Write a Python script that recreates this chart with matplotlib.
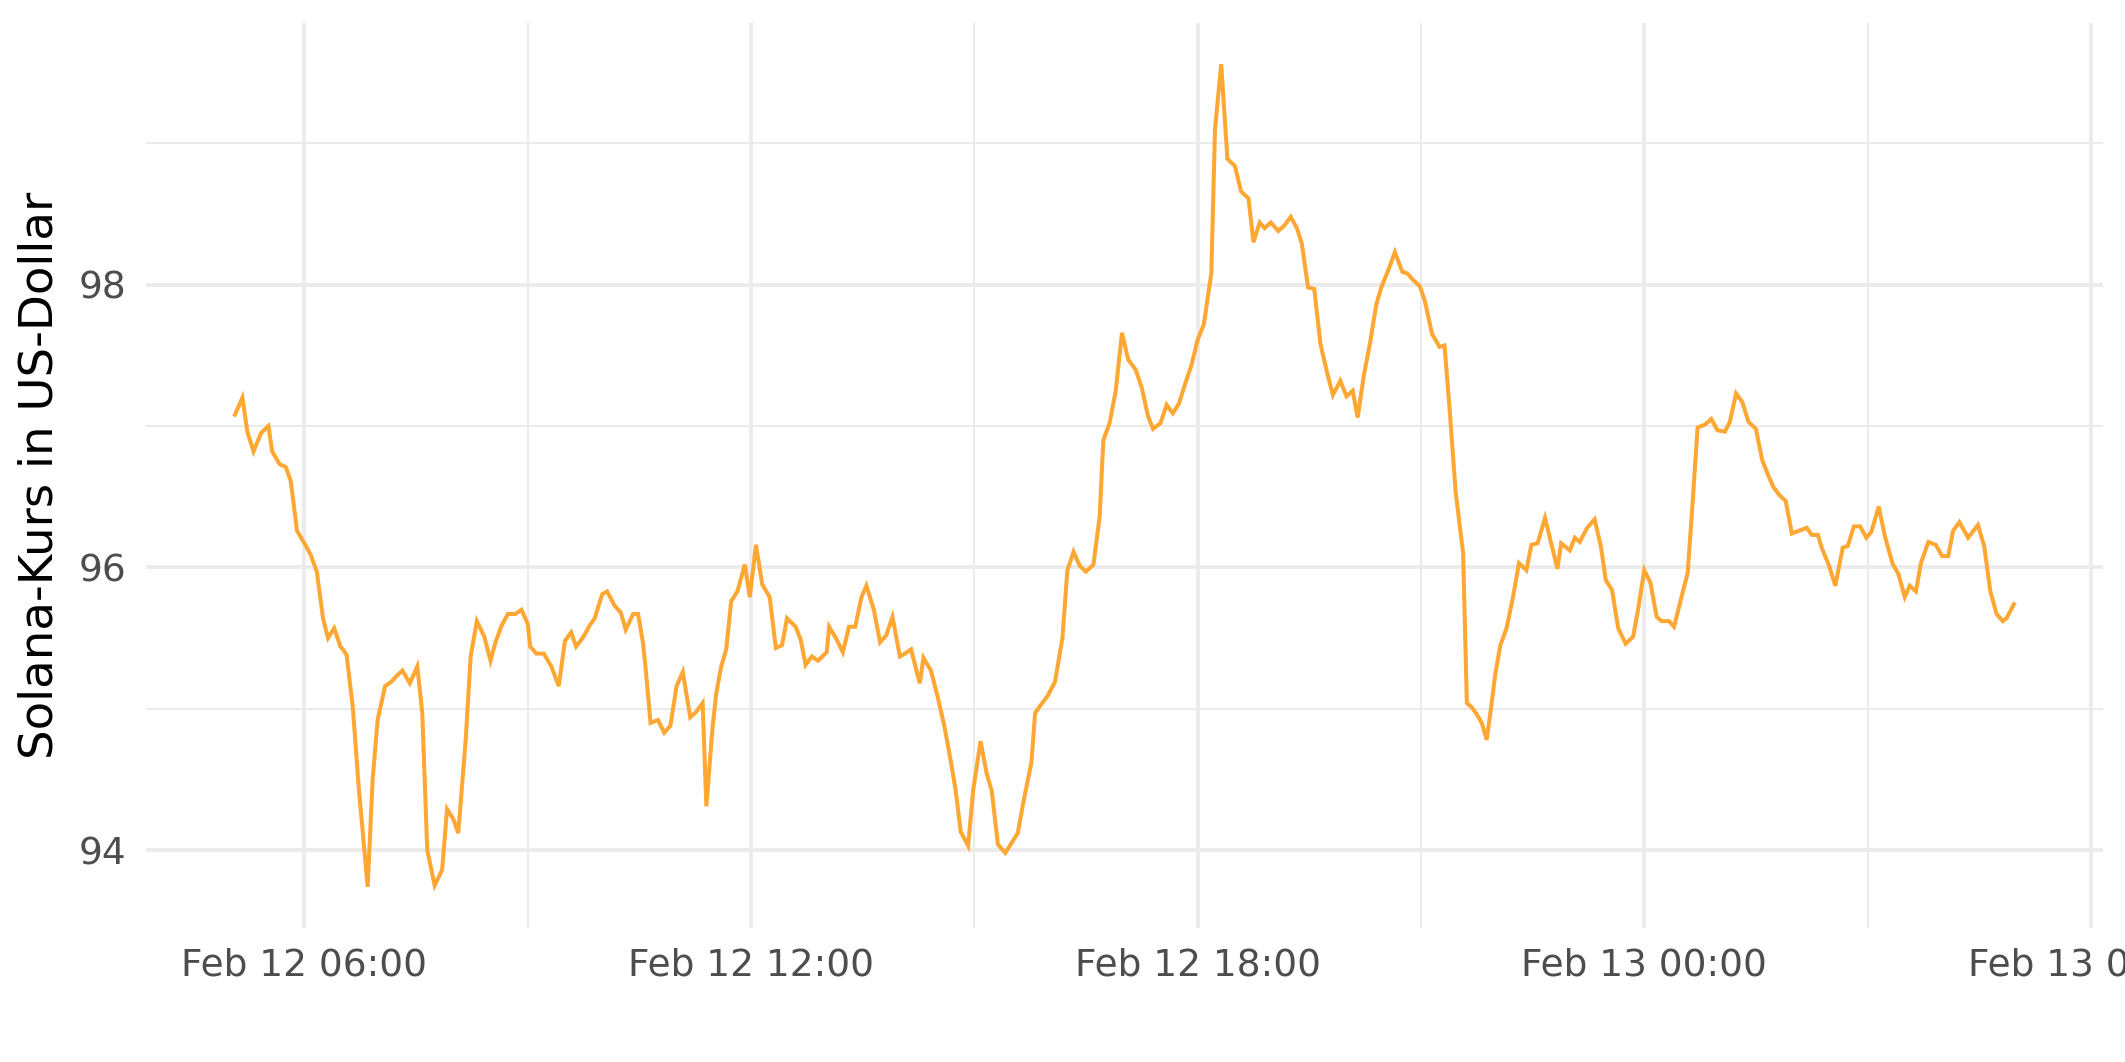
"""Solana price over one day, 5-minute ticks."""

import matplotlib

matplotlib.use("Agg")
import matplotlib.dates as mdates
import matplotlib.pyplot as plt
import pandas as pd

# minutes after 2024-02-12 00:00
minutes = [
    304, 310, 314, 319, 325, 331, 334, 340, 345, 349, 354, 360, 365, 370, 375,
    379, 384, 389, 391, 394, 399, 404, 411, 415, 419, 425, 430, 434, 439, 445,
    451, 455, 459, 465, 471, 475, 480, 484, 490, 494, 499, 505, 510, 514, 519,
    524, 530, 535, 540, 542, 547, 553, 559, 565, 570, 575, 579, 585, 590, 594,
    600, 604, 610, 615, 619, 625, 629, 633, 635, 639, 645, 650, 655, 660, 665,
    671, 676, 681, 684, 689, 692, 696, 700, 704, 709, 715, 719, 724, 729, 735,
    740, 745, 749, 756, 760, 764, 769, 774, 781, 783, 789, 794, 799, 804, 809,
    813, 819, 824, 829, 834, 840, 844, 849, 856, 859, 865, 870, 876, 881, 885,
    889, 895, 899, 905, 910, 914, 919, 925, 930, 935, 940, 946, 949, 953, 959,
    965, 971, 975, 980, 985, 990, 996, 1001, 1004, 1009, 1014, 1019, 1024, 1030,
    1035, 1040, 1044, 1050, 1055, 1060, 1065, 1070, 1075, 1080, 1085, 1091,
    1094, 1099, 1104, 1110, 1115, 1121, 1125, 1130, 1134, 1139, 1145, 1150,
    1155, 1160, 1164, 1169, 1174, 1179, 1184, 1189, 1195, 1200, 1205, 1209,
    1214, 1219, 1224, 1228, 1234, 1239, 1245, 1249, 1254, 1259, 1263, 1269,
    1275, 1279, 1283, 1288, 1294, 1297, 1301, 1305, 1309, 1313, 1317, 1320,
    1324, 1329, 1334, 1339, 1345, 1349, 1354, 1360, 1365, 1370, 1373, 1380,
    1384, 1388, 1394, 1400, 1405, 1409, 1414, 1419, 1425, 1431, 1435, 1440,
    1445, 1450, 1454, 1460, 1464, 1470, 1475, 1479, 1483, 1489, 1494, 1499,
    1505, 1509, 1514, 1519, 1524, 1530, 1535, 1540, 1544, 1549, 1554, 1559,
    1565, 1571, 1575, 1580, 1583, 1589, 1594, 1600, 1604, 1609, 1614, 1619,
    1623, 1629, 1634, 1640, 1645, 1650, 1654, 1659, 1663, 1669, 1675, 1680,
    1685, 1689, 1694, 1701, 1709, 1714, 1719, 1724, 1729, 1732, 1738,
]

price = [
    97.08, 97.20, 96.96, 96.82, 96.95, 97.00, 96.82, 96.73, 96.71, 96.61, 96.26,
    96.17, 96.09, 95.97, 95.64, 95.50, 95.57, 95.44, 95.42, 95.38, 95.01, 94.42,
    93.74, 94.50, 94.92, 95.16, 95.19, 95.23, 95.27, 95.18, 95.30, 94.97, 94.00,
    93.75, 93.86, 94.29, 94.22, 94.12, 94.78, 95.37, 95.62, 95.51, 95.34, 95.47,
    95.59, 95.67, 95.67, 95.70, 95.60, 95.44, 95.39, 95.39, 95.30, 95.16, 95.48,
    95.54, 95.44, 95.51, 95.59, 95.64, 95.81, 95.83, 95.73, 95.68, 95.56, 95.67,
    95.67, 95.46, 95.29, 94.90, 94.92, 94.83, 94.88, 95.16, 95.26, 94.94, 94.98,
    95.04, 94.31, 94.87, 95.11, 95.30, 95.42, 95.76, 95.83, 96.02, 95.79, 96.16,
    95.88, 95.79, 95.43, 95.45, 95.64, 95.58, 95.49, 95.31, 95.37, 95.34, 95.40,
    95.58, 95.49, 95.40, 95.58, 95.58, 95.79, 95.87, 95.70, 95.47, 95.52, 95.65,
    95.37, 95.39, 95.42, 95.18, 95.36, 95.27, 95.10, 94.87, 94.63, 94.42, 94.13,
    94.03, 94.42, 94.77, 94.54, 94.42, 94.04, 93.98, 94.05, 94.12, 94.36, 94.62,
    94.97, 95.02, 95.09, 95.19, 95.50, 95.98, 96.11, 96.01, 95.97, 96.02, 96.36,
    96.90, 97.02, 97.25, 97.66, 97.47, 97.40, 97.27, 97.07, 96.98, 97.02, 97.15,
    97.09, 97.16, 97.30, 97.43, 97.61, 97.72, 98.08, 99.10, 99.56, 98.89, 98.84,
    98.66, 98.61, 98.30, 98.44, 98.40, 98.44, 98.38, 98.42, 98.48, 98.40, 98.29,
    97.98, 97.97, 97.58, 97.39, 97.22, 97.32, 97.21, 97.25, 97.06, 97.36, 97.59,
    97.86, 97.98, 98.11, 98.23, 98.09, 98.08, 98.03, 97.99, 97.89, 97.65, 97.56,
    97.57, 97.13, 96.53, 96.10, 95.04, 95.01, 94.96, 94.90, 94.78, 95.04, 95.25,
    95.45, 95.57, 95.78, 96.03, 95.98, 96.16, 96.17, 96.35, 96.17, 95.99, 96.17,
    96.12, 96.21, 96.18, 96.28, 96.34, 96.15, 95.91, 95.84, 95.57, 95.46, 95.51,
    95.70, 95.98, 95.89, 95.65, 95.62, 95.62, 95.58, 95.79, 95.96, 96.46, 96.99,
    97.01, 97.05, 96.97, 96.96, 97.03, 97.23, 97.17, 97.03, 96.98, 96.76, 96.65,
    96.57, 96.51, 96.47, 96.24, 96.26, 96.28, 96.23, 96.23, 96.14, 96.01, 95.87,
    96.14, 96.15, 96.29, 96.29, 96.21, 96.25, 96.43, 96.22, 96.03, 95.95, 95.79,
    95.87, 95.83, 96.03, 96.18, 96.16, 96.08, 96.08, 96.26, 96.32, 96.21, 96.30,
    96.15, 95.83, 95.67, 95.62, 95.64, 95.74,
]

LINE_COLOR = "#FFA733"
GRID_COLOR = "#EBEBEB"
TEXT_GREY = "#4D4D4D"

times = pd.Timestamp("2024-02-12") + pd.to_timedelta(minutes, unit="min")

fig = plt.figure(figsize=(10.625, 5.31), dpi=200)
ax = fig.add_axes([0.0687, 0.1262, 0.9209, 0.8521])

ax.plot(times, price, color=LINE_COLOR, lw=1.45, solid_joinstyle="miter", zorder=3)
ax.margins(x=0.05, y=0.05)

ax.xaxis.set_major_locator(mdates.HourLocator(byhour=[0, 6, 12, 18]))
ax.xaxis.set_minor_locator(mdates.HourLocator(byhour=[3, 9, 15, 21]))
ax.xaxis.set_major_formatter(mdates.DateFormatter("%b %d %H:%M"))
ax.set_yticks([94, 96, 98])
ax.set_yticks([95, 97, 99], minor=True)

ax.grid(which="major", color=GRID_COLOR, lw=1.35)
ax.grid(which="minor", color=GRID_COLOR, lw=0.7)
ax.set_axisbelow(True)
for spine in ax.spines.values():
    spine.set_visible(False)

ax.tick_params(which="both", length=0)
ax.tick_params(axis="x", labelsize=13.5, labelcolor=TEXT_GREY, pad=7)
ax.tick_params(axis="y", labelsize=13.5, labelcolor=TEXT_GREY, pad=7)
ax.set_ylabel("Solana-Kurs in US-Dollar", fontsize=16.8, color="black", labelpad=6)

fig.savefig("out.png", dpi=200)
plt.close(fig)
